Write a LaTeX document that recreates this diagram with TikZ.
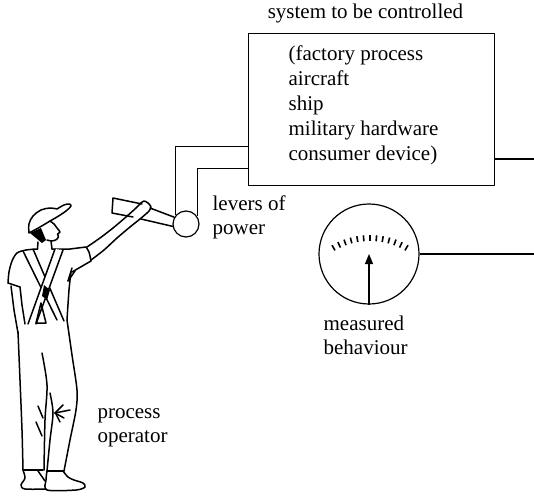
\documentclass[tikz,border=0pt]{standalone}
\usepackage{fontspec}
\setmainfont{Liberation Serif}
\usetikzlibrary{arrows.meta,calc}
\begin{document}
\begin{tikzpicture}[x=1pt,y=-1pt, line width=1.2pt, line join=round,
  lbl/.style={font=\fontsize{21}{24}\selectfont, align=left, inner sep=0pt, anchor=base west},
  fig/.style={line width=1.5pt, line cap=round},
  tickmark/.style={line width=1.6pt}]
\useasboundingbox (0,0) rectangle (534,495);
% system box and texts (multi-line nodes: base = baseline of the last line)
\node[draw, minimum width=246pt, minimum height=152pt, anchor=north west, inner sep=0pt] (sys) at (248,33) {};
\node[lbl, anchor=base] (title) at (365.5,19) {system to be controlled};
\node[lbl, font=\fontsize{21}{25}\selectfont] (list) at (288,160) {(factory process\\aircraft\\ship\\military hardware\\consumer device)};
\node[lbl] (levers) at (212,234) {levers of\\power};
\node[lbl] (meas) at (323,354) {measured\\behaviour};
\node[lbl] (oper) at (97,442) {process\\operator};
% lever and pipes
\node[draw, circle, minimum size=26pt, inner sep=0pt] (lever) at (186,224) {};
\draw ([yshift=-37pt]sys.west) -| (lever.140);
\draw ([yshift=-59pt]sys.west) -| (lever.35);
\coordinate (o1) at (534,159);
\draw (sys.east |- o1) -- (o1);
% gauge
\node[draw, circle, minimum size=100pt, inner sep=0pt] (gauge) at (369,254) {};
\coordinate (o2) at (534,254);
\draw (gauge.east) -- (o2);
\coordinate (tc) at (370,311);
\foreach \a in {60,65,...,120}
  \draw[tickmark] ([shift={(-\a:70)}]tc) -- ([shift={(-\a:76)}]tc);
\draw[-{Triangle[length=10pt,width=8pt]}] (gauge.south) -- (gauge.center);
% ---- operator figure ----
% cap
\draw[fig, fill=white] plot[smooth, tension=0.6] coordinates {(29,233) (29,224) (33,216) (41,210) (50,208) (57,209)}
  -- plot[smooth, tension=0.6] coordinates {(57,209) (64,205) (69,204) (71,206) (66,211) (57,217) (50,221)}
  -- plot[smooth, tension=0.6] coordinates {(50,221) (40,227) (29,233)} -- cycle;
\fill (30,233) -- (41,228) -- (46,240) -- (42,243) -- cycle;
% face and neck
\draw[fig] plot[smooth, tension=0.5] coordinates {(50,221) (54,224) (57,228) (60,232) (57.5,234) (58.5,236.5) (56.5,239.5) (52,241) (47,240)};
\draw[fig] (51,241) -- (52,249);
\draw[fig] (38,242) -- (37.5,249);
% shoulders, left sleeve and arm
\draw[fig] plot[smooth, tension=0.5] coordinates {(37.5,249) (26,250) (17,253) (12,261) (9,272) (8,283)};
\draw[fig] (8,283) -- (20,287);
\draw[fig] (11,286) -- (14,310) -- (18,333);
\draw[fig] (20,287) -- (22,305) -- (25,324);
% right shoulder, sleeve, torso side
\draw[fig] (52,249) -- (70,249) -- (86,247);
\draw[fig] plot[smooth] coordinates {(86,247) (89,252) (91,261)};
\draw[fig] (91,261) -- (72,272);
\draw[fig] plot[smooth] coordinates {(71,272) (69,290) (67,320)};
\draw[fig] (68,281) -- (72,268); \draw[fig] (68,281) -- (75,271);
% raised arm and hand
\draw[fig] plot[smooth] coordinates {(87,247) (100,238) (113,228) (126,217) (136,208) (141,203)};
\draw[fig] plot[smooth] coordinates {(91,260) (104,250) (117,238) (130,227) (140,219) (147,213)};
\draw[fig] plot[smooth] coordinates {(141,203) (144,201) (148,203) (151,207) (149,211) (147,213)};
% lever handle
\draw[fig] (142,204) -- (113,198) -- (112,213) -- (133,217);
\draw[fig] (150,208) -- (lever.150);
\draw[fig] (141,219) -- (lever.190);
% straps
\draw[fig] (23,251) -- (57,320);
\draw[fig] (33,249) -- (64,321);
\fill[white] (55,249) -- (63,250) -- (36,324) -- (28,324) -- cycle;
\draw[fig] (55,249) -- (28,324);
\draw[fig] (63,250) -- (36,324);
\draw[fig] (36,323) -- (41,303) -- (46,323) -- cycle;
\fill (44,285) -- (50,290) -- (47,300) -- (42,296) -- cycle;
% trousers
\draw[fig] plot[smooth] coordinates {(18,332) (20,380) (22,430) (23,470)};
\draw[fig] plot[smooth] coordinates {(67,320) (72,355) (77,390) (76,410) (70,440) (64,471)};
\draw[fig] plot[smooth] coordinates {(42,353) (47,385) (45,420) (44,470)};
\draw[fig] plot[smooth] coordinates {(50,393) (53,413) (50,440) (47,471)};
\draw[fig] (23,470) -- (43,470);
\draw[fig] (47,471) -- (64,471);
% knee creases
\draw[fig] (38,406) -- (43,418);
\draw[fig] (36,422) -- (42,436);
\draw[fig] (55,413) -- (70,410);
\draw[fig] (55,413) -- (63,405);
\draw[fig] (55,413) -- (64,418);
\draw[fig] (56,414) -- (60,422);
% shoes
\draw[fig] plot[smooth] coordinates {(23,470) (25,478) (21,485) (25,489) (46,489)};
\draw[fig] (38,471) -- (45,481);
\draw[fig] plot[smooth, tension=0.5] coordinates {(47,471) (46,480) (47,490) (76,490) (85,487) (83,483) (74,480) (68,477) (63,471)};
\end{tikzpicture}
\end{document}
